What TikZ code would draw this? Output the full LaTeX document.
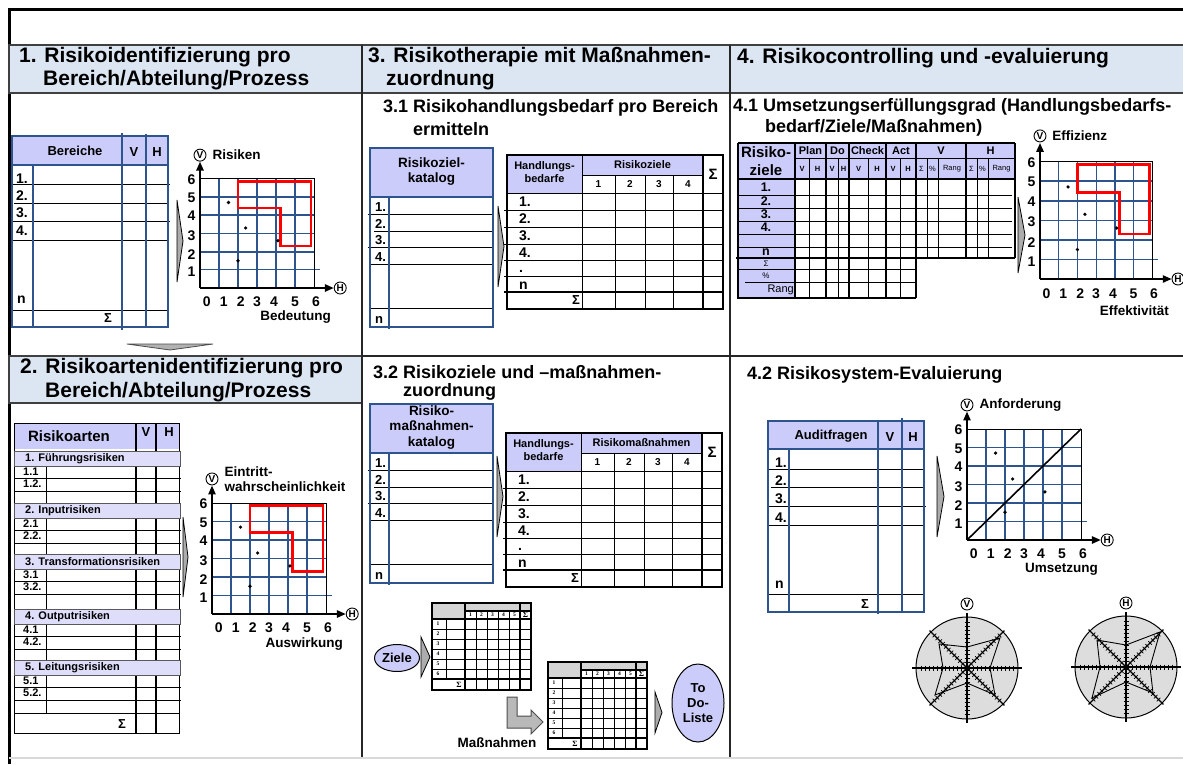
\documentclass[tikz,border=0pt]{standalone}
\usepackage{fontspec}
\setmainfont{Liberation Sans}
\newfontfamily\serifFont{Liberation Serif}
\usetikzlibrary{positioning,arrows.meta,shapes.geometric}
\definecolor{bandColor}{RGB}{220,230,242}
\definecolor{headColor}{RGB}{204,204,250}
\definecolor{barColor}{RGB}{222,222,250}
\definecolor{gridColor}{RGB}{46,84,142}
\definecolor{miniGrey}{RGB}{212,212,212}
\definecolor{radarFill}{RGB}{221,221,221}
\newcommand{\fnt}[2]{\fontsize{#1}{#2}\selectfont\bfseries}
\tikzstyle{pixels} = [x = 1pt, y = -1pt]
\tikzstyle{bandStyle} = [fill=bandColor, draw=black!75, line width=1.5pt]
\tikzstyle{divLine} = [color=black!85, line width=1.2pt]
\tikzstyle{headFill} = [fill=headColor]
\tikzstyle{barStyle} = [fill=barColor, draw=black!65, line width=0.8pt]
\tikzstyle{blueLine} = [color=gridColor, line width=1.2pt]
\tikzstyle{rowLine} = [color=black, line width=0.9pt]
\tikzstyle{thickLine} = [color=black, line width=2pt]
\tikzstyle{gridLine} = [color=gridColor, line width=1.1pt]
\tikzstyle{gridBold} = [color=gridColor, line width=1.8pt]
\tikzstyle{axisLine} = [line width=2.4pt, -{Triangle[length=9pt, width=7pt]}]
\tikzstyle{riskArea} = [color=red, line width=2.6pt]
\tikzstyle{chevronStyle} = [fill=gray!65, draw=black, line width=0.8pt]
\tikzstyle{lArrow} = [fill=gray!55, draw=black!70, line width=1pt]
\tikzstyle{miniLine} = [color=black, line width=0.8pt]
\tikzstyle{miniBold} = [color=black, line width=1.6pt]
\tikzstyle{circLetter} = [circle, draw, line width=0.9pt, inner sep=0pt, minimum size=12pt, font=\fnt{10}{10}]
\tikzstyle{ovalStyle} = [ellipse, fill=headColor, draw=black, line width=1pt, inner sep=0pt, font=\fnt{13}{15}, align=center]
\tikzstyle{hdrText} = [anchor=west, inner sep=0pt, font=\fnt{21}{24}]
\tikzstyle{subText} = [anchor=west, inner sep=0pt, font=\fnt{18}{21}]
\tikzstyle{tabText} = [inner sep=0pt, font=\fnt{13}{15}, align=center]
\tikzstyle{rowText} = [anchor=west, inner sep=0pt, font=\fnt{14}{16}, text height=10pt, text depth=0pt]
\tikzstyle{smallText} = [inner sep=0pt, font=\fnt{11}{13}, align=center]
\tikzstyle{tinyText} = [inner sep=0pt, font=\fontsize{7.5}{8}\selectfont]
\tikzstyle{numText} = [inner sep=0pt, font=\fnt{14}{16}]
\tikzstyle{chartText} = [inner sep=0pt, font=\fnt{13.5}{15}, align=left]
\tikzstyle{miniText} = [inner sep=0pt, font=\serifFont\fnt{5.5}{6}]
% thin grey wedge pointing right
\newcommand{\chevron}[4]{\filldraw[chevronStyle] (#1,#2) -- ({#1+#4},{(#2+#3)/2}) -- (#1,#3) -- cycle;}
\newcommand{\riskPolygon}{\draw[riskArea] (2,5.85) -- (5.85,5.85) -- (5.85,2.3) -- (4.25,2.3) -- (4.25,4.4) -- (2,4.4) -- cycle;}
% risk matrix: name, scope options, top label, bottom label, overlay
\newcommand{\riskChart}[5]{
  \begin{scope}[#2]
    \foreach \i in {1,3,5} {
      \draw[gridLine] (\i,0) -- (\i,6);
      \draw[gridLine] (0,\i) -- (6,\i);
    }
    \foreach \i in {2,4} {
      \draw[gridBold] (\i,0) -- (\i,6);
      \draw[gridBold] (0,\i) -- (6,\i);
    }
    \draw[gridLine] (6,1) -- (6.3,1);
    \draw[line width=0.8pt] (0,6) -- (6,6) -- (6,0);
    #5
    \foreach \px/\py in {1.5/4.7, 2.4/3.3, 4.1/2.6, 2.0/1.5}
      \fill (\px,\py) circle (1.8pt);
    \draw[axisLine] (0,0) -- (7.05,0);
    \draw[axisLine] (0,0) -- (0,6.95);
    \foreach \lbl/\xn in {0/0.35, 1/1.25, 2/2.15, 3/3, 4/3.9, 5/5, 6/6.1}
      \node[numText] (#1-x\lbl) at (\xn,-0.75) {\lbl};
    \foreach \lbl/\yn in {1/0.9, 2/1.85, 3/2.9, 4/3.95, 5/4.95, 6/5.95}
      \node[numText] (#1-y\lbl) at (-0.45,\yn) {\lbl};
    \node[circLetter] (#1-V) at (0,7.3) {V};
    \node[circLetter] (#1-H) at (7.38,0) {H};
    \node[chartText, anchor=west] (#1-top) at (0.65,7.3) {#3};
    \node[chartText, anchor=east] (#1-bottom) at (6.9,-1.6) {#4};
  \end{scope}
}
% catalogue table: name, x, y, header
\newcommand{\catalogTable}[4]{
  \begin{scope}[shift={(#2,#3)}]
    \fill[headFill] (0,0) rectangle (123,49);
    \draw[rowLine] (-2,66) -- (123,66) (4,83) -- (123,83) (-2,99) -- (123,99) (0,116) -- (123,116) (0,160) -- (123,160);
    \draw[blueLine] (0,0) rectangle (123,179);
    \draw[blueLine] (0,49) -- (123,49) (19,49) -- (19,181);
    \node[tabText, font=\fnt{13.5}{15.5}] (#1-head) at (61.5,23.5) {#4};
    \foreach \rw/\ry in {1/58, 2/75, 3/91, 4/108}
      \node[rowText, font=\fnt{13}{15}] (#1-r\rw) at (5,\ry) {\rw.};
    \node[rowText, font=\fnt{13}{15}] (#1-rn) at (5,170) {n};
  \end{scope}
}
% needs matrix: name, x, y, title
\newcommand{\actionMatrix}[4]{
  \begin{scope}[shift={(#2,#3)}]
    \fill[headFill] (0,0) rectangle (75,38) (75,0) rectangle (196,20);
    \foreach \cx in {108,138,166} \draw[rowLine] (\cx,20) -- (\cx,154);
    \draw[rowLine] (75,0) -- (75,154) (75,20) -- (196,20);
    \foreach \ry in {55,72,89,105,121} \draw[rowLine] (-3,\ry) -- (216,\ry);
    \draw[rowLine] (0,38) -- (216,38);
    \draw[thickLine] (-3,137) -- (216,137);
    \draw[thickLine] (196,0) -- (196,154);
    \draw[line width=1.4pt] (0,0) rectangle (216,154);
    \node[smallText] (#1-need) at (37.5,17) {Handlungs-\\bedarfe};
    \node[smallText] (#1-title) at (135.5,10) {#4};
    \foreach \lbl/\cx in {1/91.5, 2/123, 3/152, 4/181}
      \node[smallText, font=\fnt{10}{12}] (#1-c\lbl) at (\cx,29) {\lbl};
    \node[tabText, font=\fnt{15}{17}] (#1-sigma) at (206,19) {Σ};
    \foreach \lbl/\ry [count=\rw] in {1./46, 2./63, 3./80, 4./97, ./112, n/129}
      \node[rowText] (#1-r\rw) at (12,\ry) {\lbl};
    \node[tabText, anchor=east] (#1-sum) at (73,145.5) {Σ};
  \end{scope}
}
% small grey-headed matrix: name, x, y
\newcommand{\miniTable}[3]{
  \begin{scope}[shift={(#2,#3)}]
    \fill[miniGrey] (0,0) rectangle (33,16) (33,0) rectangle (99,8);
    \foreach \cx in {44,55,66,77} \draw[miniLine] (\cx,8) -- (\cx,87);
    \foreach \ry in {26,36,46,56,66} \draw[miniLine] (0,\ry) -- (99,\ry);
    \draw[miniLine] (14,16) -- (14,76);
    \draw[miniBold] (33,0) -- (33,87) (33,8) -- (99,8) (0,16) -- (99,16) (0,76) -- (99,76) (88,0) -- (88,87);
    \draw[miniBold] (0,0) rectangle (99,87);
    \foreach \lbl in {1,...,5}
      \node[miniText] (#1-c\lbl) at ({27.5+11*\lbl},12) {\lbl};
    \node[miniText, font=\serifFont\fnt{8}{8}] (#1-cs) at (93.5,12) {Σ};
    \foreach \lbl in {1,...,6}
      \node[miniText] (#1-r\lbl) at (6,{11+10*\lbl}) {\lbl};
    \node[miniText, font=\serifFont\fnt{8}{8}] (#1-sum) at (27,81.5) {Σ};
  \end{scope}
}
% radar: name, x, y, letter, star path
\newcommand{\radarChart}[5]{
  \begin{scope}[shift={(#2,#3)}]
    \filldraw[fill=radarFill, line width=1pt] (0,0) circle (51);
    \foreach \ang in {0,90}
      \draw[line width=1.2pt, rotate=\ang] (-55,0) -- (55,0);
    \foreach \ang in {45,135}
      \draw[line width=1.2pt, rotate=\ang] (-53,0) -- (53,0);
    \foreach \ang in {0,45,90,135}
      \foreach \tk in {-46,-42,...,46}
        \draw[line width=0.7pt, rotate=\ang] (\tk,-2.5) -- (\tk,2.5);
    \draw[line width=0.9pt] #5;
    \node[circLetter] (#1-letter) at (0,-64) {#4};
  \end{scope}
}
\begin{document}
\begin{tikzpicture}[pixels]
  \useasboundingbox (0,0) rectangle (1183,764);
  % frame and bands
  \draw[line width=3pt] (9,764) -- (9,9) -- (1184,9);
  \filldraw[bandStyle] (9,45) rectangle (1185,93);
  \filldraw[bandStyle] (9,356) rectangle (362,403);
  \draw[divLine] (362,356) -- (1184,356);
  \draw[divLine] (362,45) -- (362,757) (730,45) -- (730,757);
  \draw[color=black!15, line width=1.2pt] (9,758) -- (1184,758);
  \node[hdrText] (head1a) at (19,57) {1. Risikoidentifizierung pro};
  \node[hdrText] (head1b) at (43,80) {Bereich/Abteilung/Prozess};
  \node[hdrText] (head3a) at (368,57) {3. Risikotherapie mit Maßnahmen-};
  \node[hdrText] (head3b) at (386,80) {zuordnung};
  \node[hdrText] (head4) at (737,58) {4. Risikocontrolling und -evaluierung};
  \node[hdrText] (head2a) at (20,368) {2. Risikoartenidentifizierung pro};
  \node[hdrText] (head2b) at (45,392) {Bereich/Abteilung/Prozess};
  \node[subText] (sub31a) at (383,108) {3.1 Risikohandlungsbedarf pro Bereich};
  \node[subText] (sub31b) at (413,129) {ermitteln};
  \node[subText] (sub41a) at (733,107) {4.1 Umsetzungserfüllungsgrad (Handlungsbedarfs-};
  \node[subText] (sub41b) at (765,128) {bedarf/Ziele/Maßnahmen)};
  \node[subText] (sub32a) at (373,372) {3.2 Risikoziele und –maßnahmen-};
  \node[subText] (sub32b) at (403,392) {zuordnung};
  \node[subText] (sub42) at (747,375) {4.2 Risikosystem-Evaluierung};

  % 1. Bereiche
  \fill[headFill] (12,136) rectangle (168,165);
  \draw[rowLine] (10,184) -- (170,184) (14,203) -- (168,203) (10,221) -- (170,221) (12,240) -- (168,240) (12,310) -- (168,310);
  \draw[blueLine] (12,136) rectangle (168,327);
  \draw[blueLine] (12,165) -- (168,165) (33,165) -- (33,327) (122,133) -- (122,330) (146,134) -- (146,327);
  \node[tabText] (bereiche) at (75,151) {Bereiche};
  \node[tabText] (bereicheV) at (134,152) {V};
  \node[tabText] (bereicheH) at (157,152) {H};
  \foreach \rw/\ry in {1/178, 2/195, 3/212, 4/230}
    \node[rowText] (ber\rw) at (16,\ry) {\rw.};
  \node[rowText] (bern) at (17,298) {n};
  \node[tabText] (bersum) at (108,318) {Σ};
  \chevron{177}{200}{282}{6}
  \filldraw[fill=gray!60, draw=black!70, line width=0.8pt] (127,344) -- (213,344) -- (170,350) -- cycle;
  \riskChart{risk}{shift={(200,288)}, x=19pt, y=18.2pt}{Risiken}{Bedeutung}{\riskPolygon}

  % 2. Risikoarten
  \fill[headFill] (14,423) rectangle (179,449);
  \draw[thickLine] (136,423) -- (136,733) (156,423) -- (156,733);
  \draw[rowLine] (14,423) rectangle (179,733) (14,713) -- (179,713);
  \foreach \grp/\bt/\bend/\grpName in {1/451/503/Führungsrisiken, 2/503/554/Inputrisiken, 3/554/609/Transformationsrisiken, 4/609/660/Outputrisiken, 5/660/713/Leitungsrisiken} {
    \draw[rowLine] (46,\bt+15) -- (46,\bend);
    \draw[rowLine] (14,\bt+27) -- (181,\bt+27) (14,\bt+40) -- (181,\bt+40);
    \filldraw[barStyle] (14,\bt) rectangle (180,\bt+15);
    \node[smallText, anchor=west] (art\grp) at (25,\bt+7.5) {\grp. \grpName};
    \node[smallText, anchor=west] (art\grp-a) at (23,\bt+21) {\grp.1};
    \node[smallText, anchor=west] (art\grp-b) at (23,\bt+33) {\grp.2.};
  }
  \node[tabText, font=\fnt{15}{17}] (arten) at (69,436) {Risikoarten};
  \node[tabText] (artenV) at (146,432) {V};
  \node[tabText] (artenH) at (169,432) {H};
  \node[tabText] (artsum) at (122,724) {Σ};
  \chevron{183}{517}{597}{5}
  \riskChart{impact}{shift={(212,614)}, x=19pt, y=18.5pt}{Eintritt-\\wahrscheinlichkeit}{Auswirkung}{\riskPolygon}

  % 3.1 and 3.2
  \catalogTable{cat31}{370}{148}{Risikoziel-\\katalog}
  \chevron{498}{206}{287}{6}
  \actionMatrix{mat31}{507}{155}{Risikoziele}
  \catalogTable{cat32}{370}{404}{Risiko-\\maßnahmen-\\katalog}
  \chevron{497}{456}{537}{6}
  \actionMatrix{mat32}{506}{433}{Risikomaßnahmen}

  % Ziele -> Massnahmen -> To-Do
  \node[ovalStyle, minimum width=45pt, minimum height=27pt] (ziele) at (397,658) {Ziele};
  \chevron{421}{637}{677}{9}
  \miniTable{goals}{432}{603}
  \filldraw[lArrow] (507,697) -- (517,697) -- (517,716) -- (531,716) -- (531,710) -- (543,722) -- (531,734) -- (531,728) -- (507,728) -- cycle;
  \node[tabText, font=\fnt{13.5}{15}] (massn) at (497,743) {Maßnahmen};
  \miniTable{measures}{548}{662}
  \chevron{655}{692}{733}{7}
  \node[ovalStyle, minimum width=52pt, minimum height=78pt] (todo) at (698,703) {To\\Do-\\Liste};

  % 4.1 PDCA table
  \fill[headFill] (738,143) rectangle (1015,179);
  \fill[headFill] (738,179) rectangle (795,298);
  \foreach \ry in {195,208,221,234,247} \draw[rowLine] (738,\ry) -- (1012,\ry);
  \draw[rowLine] (738,269) -- (916,269) (745,282) -- (916,282) (795,158) -- (1015,158);
  \foreach \cx in {809,838,868,900} \draw[rowLine] (\cx,158) -- (\cx,298);
  \foreach \cx in {927,938,977,988} \draw[rowLine] (\cx,158) -- (\cx,258);
  \foreach \cx in {795,826,849,886,916} \draw[thickLine] (\cx,143) -- (\cx,298);
  \draw[thickLine] (966,143) -- (966,258) (1015,143) -- (1015,258) (736,258) -- (1015,258);
  \draw[thickLine] (738,143) -- (1015,143) (738,179) -- (1015,179) (738,143) -- (738,298) -- (916,298);
  \node[tabText, font=\fnt{15}{18}] (ziele41) at (766,161) {Risiko-\\ziele};
  \foreach \grpName/\gx in {Plan/810.5, Do/837.5, Check/867.5, Act/901, V/941, H/990.5}
    \node[smallText] (grp\grpName) at (\gx,150.5) {\grpName};
  \foreach \sub/\sx [count=\si] in {V/802, H/817.5, V/832, H/843.5, V/858.5, H/877, V/893, H/908}
    \node[tinyText, font=\fnt{7.5}{8}] (pdca\si) at (\sx,168.5) {\sub};
  \foreach \sub/\sx [count=\si] in {Σ/921.5, \%/932.5, Rang/952, Σ/971.5, \%/982.5, Rang/1001.5}
    \node[tinyText] (rank\si) at (\sx,168.5) {\sub};
  \foreach \lbl/\ry [count=\rw] in {1./187, 2./201.5, 3./214.5, 4./227.5, n/252.5}
    \node[tabText, font=\fnt{12.5}{14}] (row41-\rw) at (766,\ry) {\lbl};
  \node[tinyText, font=\fontsize{8}{9}\selectfont] (sum41) at (766,263.5) {Σ};
  \node[tinyText, font=\fontsize{8}{9}\selectfont] (pct41) at (766,275.5) {\%};
  \node[tinyText, font=\fontsize{11}{12}\selectfont, anchor=east] (rang41) at (794,290) {Rang};
  \chevron{1018}{197}{273}{7}
  \riskChart{effect}{shift={(1040,279)}, x=18.7pt, y=19.6pt}{Effizienz}{Effektivität}{\riskPolygon}

  % 4.2 Auditfragen
  \fill[headFill] (768,421) rectangle (924,449);
  \draw[rowLine] (768,469) -- (924,469) (771,487) -- (924,487) (768,506) -- (926,506) (768,525) -- (924,525) (768,594) -- (924,594);
  \draw[blueLine] (768,421) rectangle (924,612);
  \draw[blueLine] (768,449) -- (924,449) (789,449) -- (789,612) (878,421) -- (878,614) (902,418) -- (902,612);
  \node[tabText] (audit) at (831,436) {Auditfragen};
  \node[tabText] (auditV) at (890,437) {V};
  \node[tabText] (auditH) at (913,437) {H};
  \foreach \rw/\ry in {1/462, 2/480, 3/498, 4/517}
    \node[rowText] (aud\rw) at (775,\ry) {\rw.};
  \node[rowText] (audn) at (775,583) {n};
  \node[tabText] (audsum) at (865,604) {Σ};
  \chevron{937}{456}{537}{7}
  \riskChart{audit}{shift={(967,540)}, x=19pt, y=18.5pt}{Anforderung}{Umsetzung}{\draw[line width=1.6pt] (0,0) -- (6,6);}

  % radar charts
  \radarChart{radarV}{967}{668}{V}{(-28,-24) -- (0,-21) -- (33,-30) -- (23,0) -- (28,27) -- (0,15) -- (-32,27) -- (-24,0) -- cycle}
  \radarChart{radarH}{1126}{667}{H}{(-29,-27) -- (0,-22) -- (34,-35) -- (24,0) -- (27,26) -- (0,15) -- (-34,31) -- (-26,0) -- cycle}
\end{tikzpicture}
\end{document}
